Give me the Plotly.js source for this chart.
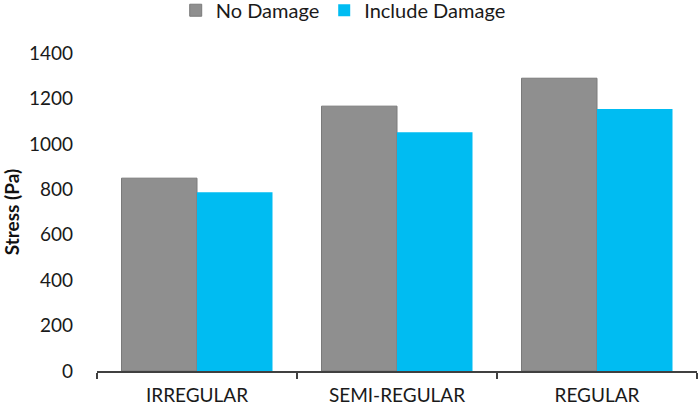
<!DOCTYPE html>
<html>
<head>
<meta charset="utf-8">
<script src="https://cdn.plot.ly/plotly-3.0.1.min.js"></script>
<style>
  html, body { margin: 0; padding: 0; background: #fff; }
  #chart { width: 699px; height: 409px; }
</style>
</head>
<body>
<div id="chart"></div>
<script>
// layout types along the x axis
var layoutTypes = ['IRREGULAR', 'SEMI-REGULAR', 'REGULAR'];

// stress values
var noDamage = [849, 1166, 1289];
var includeDamage = [787, 1051, 1154];

var yTicks = [0, 200, 400, 600, 800, 1000, 1200, 1400];

var baseFont = 'Lato, "Open Sans", sans-serif';

var plotlyData = [
    {
        x: layoutTypes,
        y: noDamage,
        type: 'bar',
        name: 'No Damage',
        marker: {color: '#8f8f8f', line: {color: '#7a7a7a', width: 1}},
        hoverinfo: 'y'
    },
    {
        x: layoutTypes,
        y: includeDamage,
        type: 'bar',
        name: 'Include Damage',
        marker: {color: '#00bcf2', line: {width: 0}},
        hoverinfo: 'y'
    }
];

var plotlyLayout = {
    width: 699,
    height: 409,
    margin: {l: 97, r: 2, t: 53, b: 38},
    paper_bgcolor: '#ffffff',
    plot_bgcolor: '#ffffff',
    font: {family: baseFont, size: 18, color: '#1a1a1a'},
    barmode: 'group',
    bargap: 0.245,
    bargroupgap: 0,
    showlegend: true,
    legend: {
        orientation: 'h',
        xref: 'container',
        yref: 'container',
        x: 0.491,
        xanchor: 'center',
        y: 0.975,
        yanchor: 'middle',
        font: {family: baseFont, size: 20, color: '#1a1a1a'},
        itemwidth: 30,
        tracegroupgap: 0
    },
    xaxis: {
        type: 'category',
        showline: true,
        linecolor: '#404040',
        linewidth: 1.5,
        ticks: 'outside',
        tickson: 'boundaries',
        ticklen: 6,
        tickwidth: 1.5,
        tickcolor: '#404040',
        ticklabelstandoff: 6,
        showgrid: false,
        zeroline: false,
        tickfont: {family: baseFont, size: 19, color: '#1a1a1a'}
    },
    yaxis: {
        range: [0, 1400],
        tickvals: yTicks,
        showline: false,
        showgrid: false,
        zeroline: false,
        ticks: '',
        ticklabelstandoff: 23,
        tickfont: {family: baseFont, size: 19, color: '#1a1a1a'},
        title: {
            text: 'Stress (Pa)',
            font: {family: baseFont, size: 19, color: '#111111', weight: 'bold'},
            standoff: 7
        }
    }
};

var plotlyConfig = {
    displayModeBar: false,
    responsive: false
};

Plotly.newPlot('chart', plotlyData, plotlyLayout, plotlyConfig);
</script>
</body>
</html>
